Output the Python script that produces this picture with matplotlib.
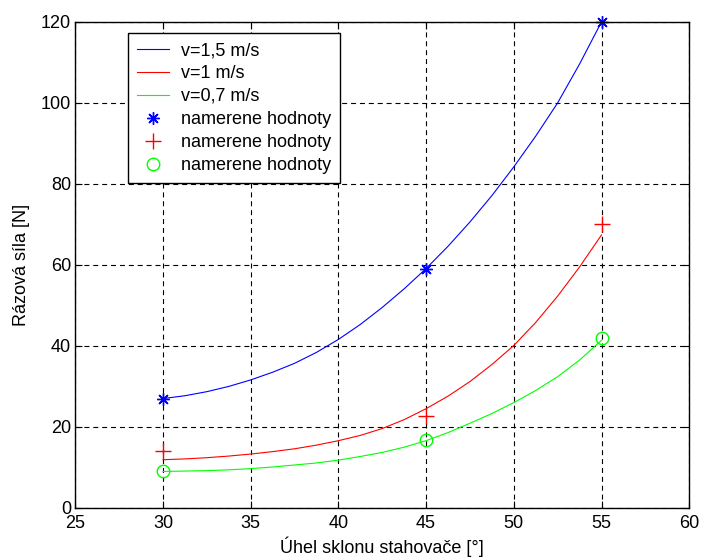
import matplotlib
matplotlib.use("Agg")
import matplotlib.pyplot as plt

plt.rcParams['font.family'] = ['Liberation Sans', 'DejaVu Sans']

# fitted curves
x_curve = [30, 31.25, 32.5, 33.75, 35, 36.25, 37.5, 38.75, 40, 41.25, 42.5,
           43.75, 45, 46.25, 47.5, 48.75, 50, 51.25, 52.5, 53.75, 55]
blue_curve = [27.0, 27.7, 28.7, 30.0, 31.6, 33.5, 35.7, 38.4, 41.6, 45.3, 49.5,
              54.1, 59.1, 64.6, 70.6, 77.1, 84.2, 91.8, 100.0, 109.6, 120.0]
red_curve = [11.9, 12.1, 12.4, 12.8, 13.3, 13.9, 14.6, 15.5, 16.6, 17.9, 19.6,
             21.8, 24.5, 27.6, 31.2, 35.4, 40.1, 45.8, 52.3, 59.5, 67.4]
green_curve = [9.0, 9.1, 9.2, 9.4, 9.7, 10.1, 10.6, 11.1, 11.8, 12.7, 13.7,
               15.0, 16.6, 18.6, 20.9, 23.3, 26.0, 29.0, 32.4, 36.5, 41.4]

# measured values
x_meas = [30, 45, 55]
blue_meas = [27, 59, 120]
red_meas = [14, 22.6, 70]
green_meas = [9, 16.7, 42]

legend_labels = ['v=1,5 m/s', 'v=1 m/s', 'v=0,7 m/s',
                 'namerene hodnoty', 'namerene hodnoty', 'namerene hodnoty']
xticks = [25, 30, 35, 40, 45, 50, 55, 60]
yticks = [0, 20, 40, 60, 80, 100, 120]

FS = 13

fig = plt.figure(figsize=(7.04, 5.6), dpi=100)
ax = fig.add_axes([0.107, 0.093, 0.872, 0.868])

l1, = ax.plot(x_curve, blue_curve, color=(0, 0, 1), lw=0.8)
l2, = ax.plot(x_curve, red_curve, color=(1, 0, 0), lw=0.8)
l3, = ax.plot(x_curve, green_curve, color=(0, 1, 0), lw=0.8)
m1, = ax.plot(x_meas, blue_meas, ls='none', marker=(8, 2, 0), ms=9,
              color=(0, 0, 1), mew=1.0, clip_on=False)
m2, = ax.plot(x_meas, red_meas, ls='none', marker='+', ms=11, color=(1, 0, 0),
              mew=1.0)
m3, = ax.plot(x_meas, green_meas, ls='none', marker='o', ms=9, mfc='none',
              mec=(0, 1, 0), mew=1.0)

ax.set_xlim(25, 60)
ax.set_ylim(0, 120)
ax.set_xticks(xticks)
ax.set_yticks(yticks)
ax.tick_params(axis='both', direction='in', top=True, right=True,
               labelsize=FS, length=5, width=0.8)
ax.tick_params(axis='x', pad=5)
ax.tick_params(axis='y', pad=3)
ax.grid(True, color='black', ls=(0, (4.5, 3.5)), lw=0.8)
for s in ax.spines.values():
    s.set_linewidth(1.0)

ax.set_xlabel('Úhel sklonu stahovače [°]', fontsize=FS, labelpad=3)
ax.set_ylabel('Rázová síla [N]', fontsize=FS, labelpad=8)

leg = ax.legend([l1, l2, l3, m1, m2, m3], legend_labels, loc='upper left',
                bbox_to_anchor=(0.0858, 0.977), borderaxespad=0,
                fontsize=FS, fancybox=False, framealpha=1, edgecolor='black',
                handlelength=1.75, labelspacing=0.33, borderpad=0.5,
                handletextpad=0.7)
leg.get_frame().set_linewidth(1.0)

fig.savefig('out.png', dpi=100)
